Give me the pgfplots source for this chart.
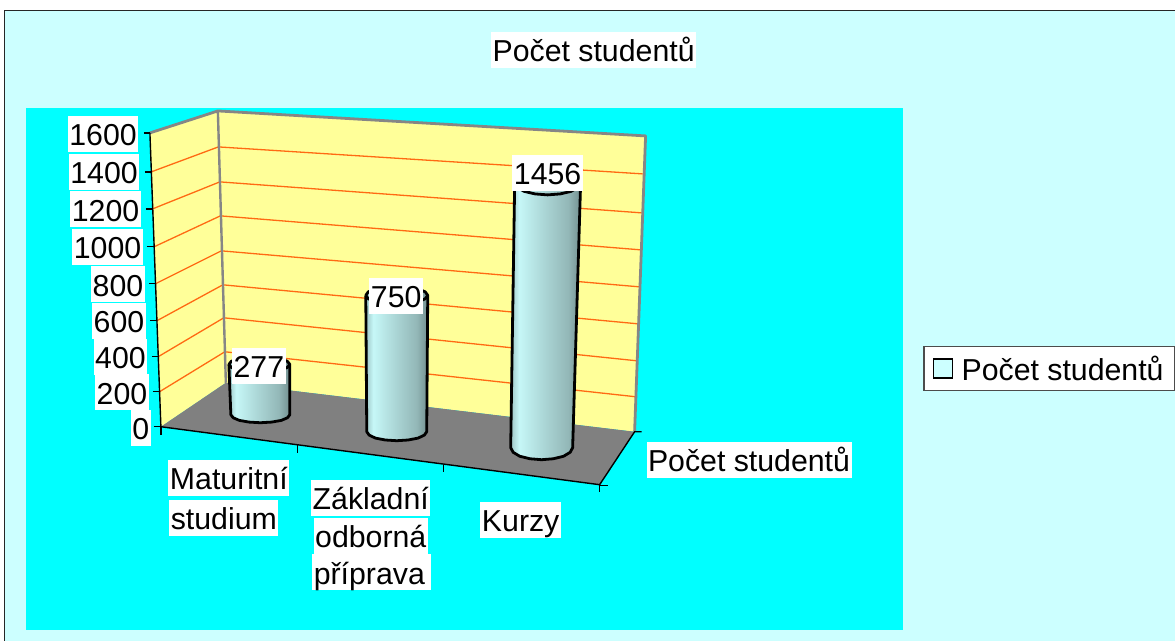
\documentclass[border=0pt]{standalone}
\usepackage{fontspec}
\setmainfont{Liberation Sans}
\usepackage{pgfplots}
\usepackage{pgfplotstable}
\pgfplotsset{compat=1.18}

\definecolor{pagebg}{HTML}{CCFFFF}
\definecolor{plotbg}{HTML}{00FFFF}
\definecolor{wall}{HTML}{FFFF99}
\definecolor{floorc}{HTML}{808080}
\definecolor{gridc}{HTML}{FF6A13}
\definecolor{edge}{HTML}{868686}

% stops live between 25bp and 75bp, that part is stretched over the path
\pgfdeclarehorizontalshading{cyl}{100bp}{
  color(0bp)=(black!22!pagebg);
  color(25bp)=(black!22!pagebg);
  color(31bp)=(black!3!pagebg);
  color(50bp)=(black!17!pagebg);
  color(66bp)=(black!28!pagebg);
  color(73bp)=(black!40!pagebg);
  color(75bp)=(black!34!pagebg);
  color(100bp)=(black!34!pagebg)}

% outline of a cylinder: ux,uy on the unit ellipse, h=0 foot, h=1 head
\pgfplotstableread{
ux uy h
-1 0 1
-1 0 0
-0.92 0.38 0
-0.71 0.71 0
-0.38 0.92 0
0 1 0
0.38 0.92 0
0.71 0.71 0
0.92 0.38 0
1 0 0
1 0 1
0.92 -0.38 1
0.71 -0.71 1
0.38 -0.92 1
0 -1 1
-0.38 -0.92 1
-0.71 -0.71 1
-0.92 -0.38 1
-1 0 1
}\cylshape
\pgfplotstableread{
ux uy h
-1 0 1
-0.92 0.38 1
-0.71 0.71 1
-0.38 0.92 1
0 1 1
0.38 0.92 1
0.71 0.71 1
0.92 0.38 1
1 0 1
}\cyltop

% {foot cx}{foot r}{head cx}{head r}{foot y}{ellipse b}{value}
\newcommand{\cyl}[7]{
  \addplot[draw=black,line width=2.8pt,shading=cyl,line join=round]
    table[x expr={(1-\thisrow{h})*(#1+#2*\thisrow{ux})+\thisrow{h}*(#3+#4*\thisrow{ux})},
          y expr={#5-0.182*#7*\thisrow{h}+#6*\thisrow{uy}}]{\cylshape};
  \addplot[draw=black,line width=2.8pt]
    table[x expr={#3+#4*\thisrow{ux}},
          y expr={#5-0.182*#7+#6*\thisrow{uy}}]{\cyltop};
}

\begin{document}
\begin{tikzpicture}[
  lbl/.style={fill=white,inner xsep=1.5pt,inner ysep=0pt,text height=30pt,text depth=6pt,
    font=\fontsize{30.3}{35}\selectfont},
  ]
\begin{axis}[
  scale only axis,
  width=1176pt,height=641pt,
  xmin=0,xmax=1176,ymin=0,ymax=641,
  y dir=reverse,
  hide axis,
  clip=false,
  no markers,
]
% page
\addplot[draw=none,fill=white] coordinates {(0,0)(1176,0)(1176,641)(0,641)} --cycle;
\addplot[draw=none,fill=pagebg] coordinates {(4.5,10.5)(1176,10.5)(1176,641)(4.5,641)} --cycle;
\addplot[draw=black!85,line width=1.5pt] coordinates {(4.5,641)(4.5,10.5)(1176,10.5)};
\addplot[draw=none,fill=plotbg] coordinates {(26,108)(904,108)(904,630)(26,630)} --cycle;

% walls and floor
\addplot[draw=none,fill=wall] coordinates {(150,133)(218,111)(226,383)(161,427)} --cycle;
\addplot[draw=none,fill=wall] coordinates {(218,111)(646,136)(635,432)(226,383)} --cycle;
\addplot[draw=none,fill=floorc] coordinates {(161,427)(226,383)(635,432)(600,485)} --cycle;

% grid lines, 200 to 1400
\addplot[gridc,line width=1.3pt] coordinates {(151.3,172)(218.5,147)(643,174)};
\addplot[gridc,line width=1.3pt] coordinates {(152.7,209)(220,182)(642,213)};
\addplot[gridc,line width=1.3pt] coordinates {(154.1,247)(220.5,216)(641,250)};
\addplot[gridc,line width=1.3pt] coordinates {(155.5,284)(221.5,251)(639.5,287)};
\addplot[gridc,line width=1.3pt] coordinates {(156.9,321)(223,285)(638,324)};
\addplot[gridc,line width=1.3pt] coordinates {(158.2,357)(224,318)(637,361)};
\addplot[gridc,line width=1.3pt] coordinates {(159.6,392)(225,352)(636,397)};

% wall edges
\addplot[edge,line width=2.8pt,line join=round] coordinates {(150,133)(218,111)(646,136)(635,432)};
\addplot[edge,line width=2.4pt] coordinates {(218,111)(226,383)};

% axis lines and ticks
\addplot[black,line width=1.4pt] coordinates {(150,133)(161,427)(600,485)(635,432)(642,432)};
\addplot[black,line width=1.3pt] coordinates {(144,133)(150,133)};
\addplot[black,line width=1.3pt] coordinates {(145,172)(151.3,172)};
\addplot[black,line width=1.3pt] coordinates {(146,209)(152.7,209)};
\addplot[black,line width=1.3pt] coordinates {(147,247)(154.1,247)};
\addplot[black,line width=1.3pt] coordinates {(149,284)(155.5,284)};
\addplot[black,line width=1.3pt] coordinates {(150,321)(156.9,321)};
\addplot[black,line width=1.3pt] coordinates {(152,357)(158.2,357)};
\addplot[black,line width=1.3pt] coordinates {(153,392)(159.6,392)};
\addplot[black,line width=1.3pt] coordinates {(154,427)(161,427)};
\addplot[black,line width=1.3pt] coordinates {(161,427)(161,435)};
\addplot[black,line width=1.3pt] coordinates {(298,445)(298,453)};
\addplot[black,line width=1.3pt] coordinates {(444,465)(444,472)};
\addplot[black,line width=1.3pt] coordinates {(600,485)(600,492)};
\addplot[black,line width=1.3pt] coordinates {(600,486)(608,486)};

% cylinders
\cyl{260.5}{29.5}{259.5}{30.5}{415}{8}{277}
\cyl{397}{30}{397}{31}{432}{9}{750}
\cyl{542}{31}{548}{33}{448}{12}{1456}

% value axis labels
\node[lbl,anchor=east] at (axis cs:138.5,134) {1600};
\node[lbl,anchor=east] at (axis cs:139.5,172) {1400};
\node[lbl,anchor=east] at (axis cs:141,209.5) {1200};
\node[lbl,anchor=east] at (axis cs:143,247) {1000};
\node[lbl,anchor=east] at (axis cs:145,284.5) {800};
\node[lbl,anchor=east] at (axis cs:146,321) {600};
\node[lbl,anchor=east] at (axis cs:147.5,357) {400};
\node[lbl,anchor=east] at (axis cs:149,392.5) {200};
\node[lbl,anchor=east] at (axis cs:151,428) {0};

% data labels
\node[lbl] at (axis cs:259,366) {277};
\node[lbl] at (axis cs:396.5,296) {750};
\node[lbl] at (axis cs:548,173) {1456};

% category labels
\node[lbl] at (axis cs:229,478) {Maturitní};
\node[lbl] at (axis cs:224,518) {studium};
\node[lbl] at (axis cs:371,498) {Základní};
\node[lbl] at (axis cs:371,536) {odborná};
\node[lbl,text width=115pt,align=left,inner xsep=2pt] at (axis cs:371.5,572.5) {příprava};
\node[lbl] at (axis cs:521,520) {Kurzy};
\node[lbl] at (axis cs:749.5,460) {Počet studentů};

% title
\node[lbl] at (axis cs:594,50) {Počet studentů};

% legend
\addplot[draw=black!70,line width=1.3pt,fill=white] coordinates {(924.5,347)(1175,347)(1175,391)(924.5,391)} --cycle;
\addplot[draw=black,line width=1.8pt,fill=pagebg] coordinates {(934,359.5)(953,359.5)(953,378.5)(934,378.5)} --cycle;
\node[lbl,fill=none,anchor=west,inner xsep=0pt] at (axis cs:962,369) {Počet studentů};
\end{axis}
\end{tikzpicture}
\end{document}
